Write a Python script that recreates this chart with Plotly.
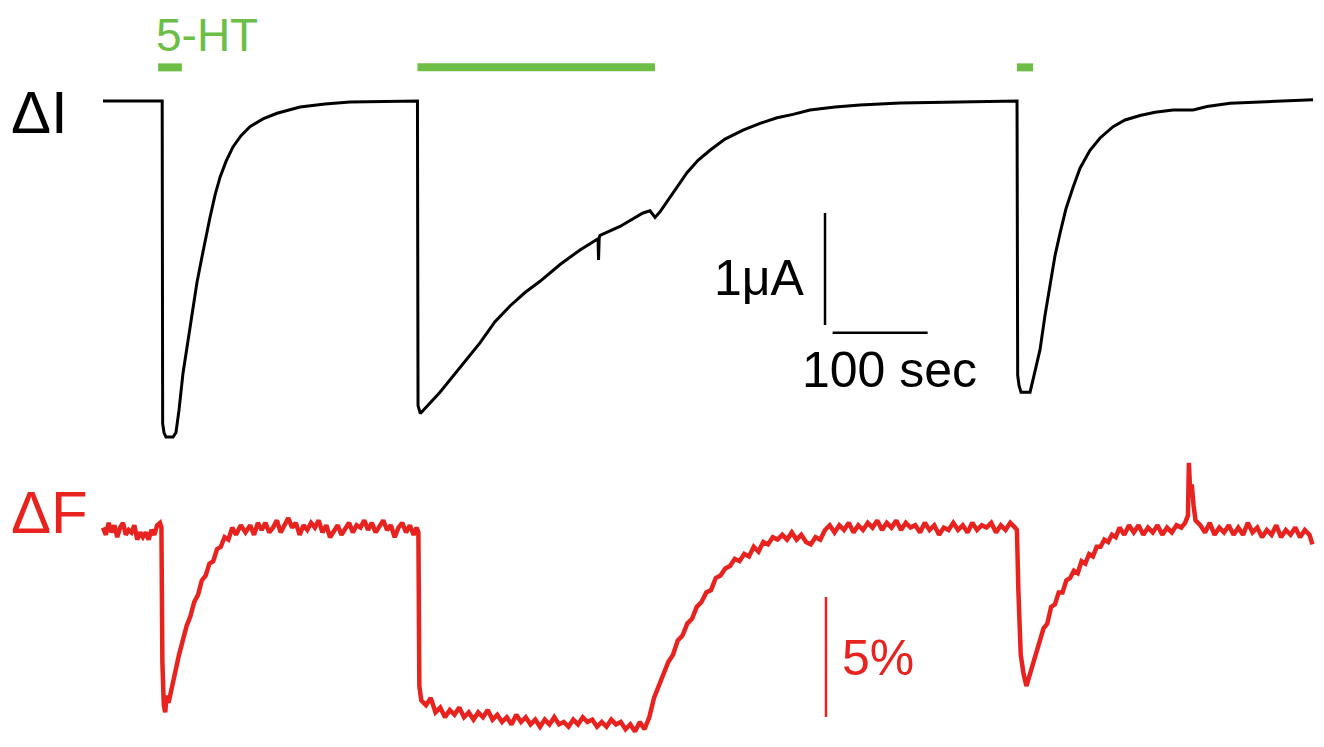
import plotly.graph_objects as go

# ---------------- data ----------------
# Membrane current trace (time in s, current in µA)
current_t = [0, 62.3, 62.8, 64.2, 66.3, 73.7, 76.8, 80.0, 84.2, 89.5, 94.7, 98.9, 104.2, 108.4,
             112.6, 117.9, 123.2, 129.5, 136.8, 145.3, 154.7, 168.4, 183.2, 207.4, 233.7, 260.0,
             291.6, 331.0,
             331.6, 334.0, 354.7, 375.8, 396.8, 412.6, 428.4, 444.2, 460.0, 481.1, 502.1, 521.1,
             521.6, 522.3, 523.2, 544.2, 568.4, 575.8, 581.1, 586.3, 596.8, 605.3,
             614.7, 626.3, 638.9, 654.7, 673.7, 691.6, 709.5, 726.3, 744.2, 770.5, 796.8, 838.9,
             891.6, 944.2, 962.1,
             962.8, 964.2, 966.3, 975.8, 980.0, 986.3, 991.6, 996.8, 1002.1, 1007.4, 1013.7,
             1021.1, 1028.4, 1038.9, 1049.5, 1063.2, 1075.8, 1091.6, 1107.4, 1126.3, 1147.4,
             1162.1, 1186.3, 1273.7]
current_uA = [0, 0, -2.88, -2.96, -3.0, -3.0, -2.96, -2.76, -2.43, -2.13, -1.84, -1.62, -1.39,
              -1.21, -1.04, -0.84, -0.68, -0.54, -0.41, -0.31, -0.23, -0.16, -0.11, -0.054,
              -0.027, -0.009, -0.004, 0,
              -2.72, -2.79, -2.60, -2.38, -2.16, -1.97, -1.83, -1.71, -1.61, -1.46, -1.33, -1.23,
              -1.42, -1.22, -1.20, -1.12, -1.00, -0.98, -1.04, -0.99, -0.86, -0.75,
              -0.64, -0.53, -0.44, -0.34, -0.26, -0.20, -0.15, -0.12, -0.08, -0.054, -0.036,
              -0.018, -0.009, -0.003, 0,
              -2.45, -2.54, -2.60, -2.60, -2.45, -2.22, -1.91, -1.63, -1.38, -1.18, -0.96, -0.77,
              -0.60, -0.44, -0.33, -0.23, -0.17, -0.13, -0.10, -0.08, -0.08, -0.05, -0.02, 0.01]

# Fluorescence trace (time in s, ΔF in %)
fluo_t = [0, 3, 6, 9, 12, 15, 18, 21, 24, 27, 30, 33, 36, 39, 42, 45, 48, 51, 54, 57, 60,
          61.5, 62.5, 64, 65.5, 67, 69, 72, 76, 80, 84, 88, 92, 96, 100, 104, 108, 112, 116, 120,
          124, 128, 132, 136, 140, 145, 150,
          155, 159, 163, 167, 171, 175, 179, 183, 187, 191, 195, 199, 203, 207, 211, 215, 219,
          223, 227, 231, 235, 239, 243, 247, 251, 255, 259, 263, 267, 271, 275, 279, 283, 287,
          291, 295, 299, 303, 307, 311, 315, 319, 323, 327, 330,
          332, 333, 335, 340, 345, 350, 355, 360, 365, 370, 375, 380, 385, 390, 395, 400, 405,
          410, 415, 420, 425, 430, 435, 440, 445, 450, 455, 460, 465, 470, 475, 480, 485, 490,
          495, 500, 505, 510, 515, 520, 525, 530, 535, 540, 545, 550, 555, 560, 565, 570,
          575, 580, 585, 590, 595, 600, 605, 610, 615, 620, 625, 630, 635, 640, 645, 650, 655,
          660, 665, 670, 675, 680, 685, 690, 695, 700, 705, 710, 715, 720, 725, 730, 735, 740,
          745, 750, 755, 760, 765, 770, 775, 780, 785, 790, 795, 800, 805, 810, 815, 820, 825,
          830, 835, 840, 845, 850, 855, 860, 865, 870, 875, 880, 885, 890, 895, 900, 905, 910,
          915, 920, 925, 930, 935, 940, 945, 950, 955, 960,
          962, 963.5, 966, 969, 972, 975, 978, 982, 986, 990, 994, 998, 1002, 1006, 1010, 1014,
          1018, 1022, 1026, 1030, 1034, 1038, 1042, 1046, 1050, 1054, 1058, 1062, 1066, 1070,
          1075, 1080, 1085, 1090, 1095, 1100, 1105, 1110, 1115, 1120, 1125, 1130, 1135, 1139,
          1142, 1143, 1144.5, 1146, 1148, 1150, 1155, 1160, 1165, 1170, 1175, 1180, 1185, 1190,
          1195, 1200, 1205, 1210, 1215, 1220, 1225, 1230, 1235, 1240, 1245, 1250, 1255, 1260,
          1265, 1270, 1273]
fluo_pct = [0.1, -0.2, 0.3, -0.1, 0.2, -0.3, 0.1, 0.3, -0.2, 0.0, -0.1, 0.2, -0.4, -0.1,
            -0.3, -0.1, -0.4, 0.0, -0.2, 0.2, 0.3,
            0.1, -5.5, -7.3, -7.6, -6.9, -7.2, -6.6, -5.9, -5.2, -4.6, -4.0, -3.6, -3.0, -2.7,
            -2.1, -1.9, -1.4, -1.3, -0.8, -0.7, -0.3, -0.4, 0.1, -0.2, 0.2, -0.1,
            0.2, -0.2, 0.3, 0.0, 0.3, -0.1, 0.1, 0.4, -0.1, 0.2, 0.5, 0.1, 0.3, -0.2, 0.2, 0.0,
            0.3, 0.1, 0.4, -0.1, 0.2, -0.3, 0.0, 0.2, -0.2, 0.1, 0.3, -0.1, 0.2, 0.1, 0.4, 0.0,
            0.3, -0.1, 0.2, 0.4, 0.0, 0.2, -0.3, 0.1, 0.3, -0.1, 0.2, -0.2, 0.1,
            -0.1, -6.5, -7.1, -7.3, -7.0, -7.6, -7.4, -7.8, -7.5, -7.7, -7.4, -7.8, -7.6, -7.9,
            -7.6, -7.8, -7.5, -7.9, -7.7, -8.0, -7.8, -8.1, -7.7, -8.0, -7.8, -8.1, -7.9, -8.2,
            -7.9, -8.1, -7.8, -8.1, -8.0, -8.2, -7.9, -8.1, -7.8, -8.0, -7.9, -8.2, -8.0, -8.2,
            -7.9, -8.1, -8.0, -8.3, -8.1, -8.4, -8.0, -8.3,
            -7.8, -7.0, -6.5, -6.1, -5.5, -5.2, -4.6, -4.4, -3.9, -3.7, -3.2, -3.0, -2.6, -2.5,
            -2.0, -1.9, -1.6, -1.5, -1.2, -1.3, -1.0, -1.1, -0.7, -0.9, -0.5, -0.6, -0.3, -0.4,
            -0.2, -0.4, -0.1, -0.4, -0.2, -0.5, -0.6, -0.3, -0.4, 0.0, 0.2, -0.1, 0.2, 0.0, 0.3,
            -0.1, 0.2, 0.0, 0.3, 0.1, 0.4, 0.0, 0.3, 0.1, 0.4, 0.0, 0.3, 0.1, 0.2, -0.1, 0.3, 0.0,
            0.2, -0.2, 0.1, 0.0, 0.3, 0.0, 0.2, -0.1, 0.3, 0.0, 0.2, 0.1, 0.3, -0.1, 0.2, 0.0,
            0.3, 0.1,
            0.0, -2.5, -5.2, -6.0, -6.5, -6.1, -5.7, -5.1, -4.7, -4.1, -3.9, -3.2, -3.1, -2.6,
            -2.6, -2.1, -2.0, -1.7, -1.8, -1.3, -1.4, -1.0, -1.1, -0.7, -0.7, -0.4, -0.5, -0.2,
            -0.3, 0.1, -0.2, 0.2, -0.1, 0.2, -0.2, 0.1, -0.1, 0.2, -0.2, 0.1, -0.1, 0.2, 0.1, 0.3,
            0.6, 2.8, 1.5, 1.9, 1.0, 0.4, 0.2, -0.1, 0.3, -0.2, 0.1, -0.1, 0.2, -0.2, 0.1, -0.2,
            0.3, -0.1, 0.1, -0.3, 0.0, -0.2, 0.2, -0.3, 0.0, -0.2, 0.1, -0.3, 0.0, -0.2, -0.6]

# 5-HT application periods (s)
ht_start = [58, 331, 962]
ht_stop = [83, 581, 979]
ht_level_uA = 0.30

# Scale bars
scale_t0 = 760          # s
scale_current = 1.0     # µA
scale_time = 100        # s
scale_fluo = 5          # %

# ---------------- colours ----------------
GREEN = "#6CBE47"
RED = "#E8231F"
BLACK = "#000000"
FONT = "Liberation Sans, Arial, Helvetica, sans-serif"

fig = go.Figure()

# current trace
fig.add_trace(go.Scatter(x=current_t, y=current_uA, mode="lines",
                         line=dict(color=BLACK, width=3), yaxis="y", hoverinfo="skip"))
# fluorescence trace
fig.add_trace(go.Scatter(x=fluo_t, y=fluo_pct, mode="lines",
                         line=dict(color=RED, width=4.5), yaxis="y2", hoverinfo="skip"))

# 5-HT bars
for s, e in zip(ht_start, ht_stop):
    fig.add_trace(go.Scatter(x=[s, e], y=[ht_level_uA, ht_level_uA], mode="lines",
                             line=dict(color=GREEN, width=8), yaxis="y", hoverinfo="skip"))

# current scale bars
cur_bar_top = -1.0
fig.add_trace(go.Scatter(x=[scale_t0, scale_t0], y=[cur_bar_top, cur_bar_top - scale_current],
                         mode="lines", line=dict(color=BLACK, width=2.5), yaxis="y"))
fig.add_trace(go.Scatter(x=[scale_t0 + 8, scale_t0 + 8 + scale_time], y=[-2.07, -2.07],
                         mode="lines", line=dict(color=BLACK, width=2.5), yaxis="y"))
# fluorescence scale bar
fig.add_trace(go.Scatter(x=[scale_t0 + 1, scale_t0 + 1], y=[-2.79, -2.79 - scale_fluo],
                         mode="lines", line=dict(color=RED, width=2.5), yaxis="y2"))

ann = [
    dict(text="5-HT", x=54, y=0.59, xanchor="left", yanchor="middle", yref="y",
         font=dict(size=46, color=GREEN)),
    dict(text="ΔI", x=-99, y=-0.1, xanchor="left", yanchor="middle", yref="y",
         font=dict(size=60, color=BLACK)),
    dict(text="ΔF", x=-99, y=0.75, xanchor="left", yanchor="middle", yref="y2",
         font=dict(size=60, color=RED)),
    dict(text="1μA", x=741, y=-1.58, xanchor="right", yanchor="middle", yref="y",
         font=dict(size=50, color=BLACK)),
    dict(text="100 sec", x=734, y=-2.4, xanchor="left", yanchor="middle", yref="y",
         font=dict(size=50, color=BLACK)),
    dict(text="5%", x=776, y=-5.35, xanchor="left", yanchor="middle", yref="y2",
         font=dict(size=50, color=RED)),
]
for a in ann:
    a.update(xref="x", showarrow=False)

# The page body adds an 8 px margin, so the figure is 16 px smaller and axis
# ranges are set for that placement.
fig.update_layout(
    width=1308, height=731,
    margin=dict(l=0, r=0, t=0, b=0),
    paper_bgcolor="white", plot_bgcolor="white",
    showlegend=False,
    font=dict(family=FONT),
    annotations=ann,
    xaxis=dict(range=[-100.0, 1276.8], visible=False, fixedrange=True),
    yaxis=dict(range=[-5.696, 0.830], visible=False, fixedrange=True),
    yaxis2=dict(range=[-8.708, 21.75], visible=False, overlaying="y", fixedrange=True),
)

fig.write_html("out.html")
